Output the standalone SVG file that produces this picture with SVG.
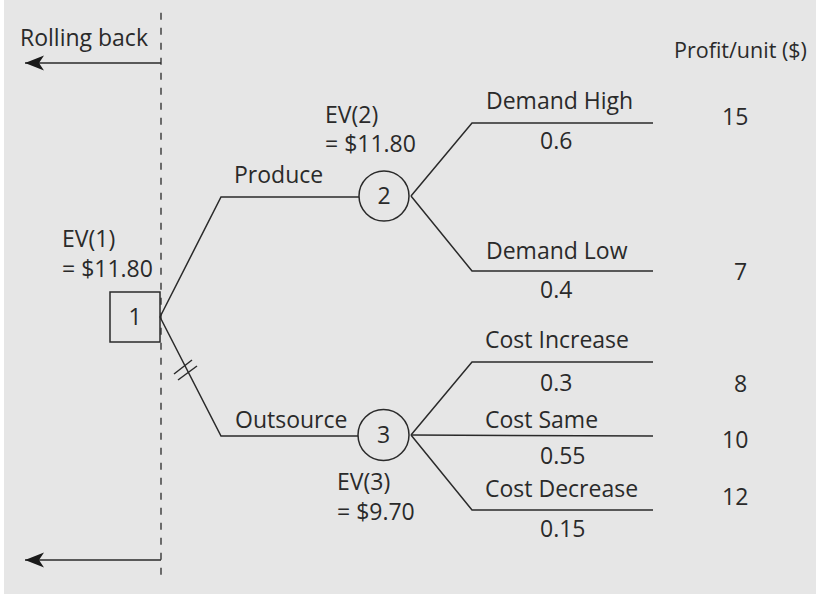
<svg xmlns="http://www.w3.org/2000/svg" width="816" height="594" viewBox="0 0 816 594">
<defs>
<style>
.t{font-family:"Open Sans","Liberation Sans",sans-serif;font-size:23px;fill:#2a2a2a}
.c{text-anchor:middle}
.ln{fill:none;stroke:#2a2a2a;stroke-width:1.5}
.nd{fill:none;stroke:#2a2a2a;stroke-width:1.5}
</style>
<marker id="ah" markerUnits="userSpaceOnUse" markerWidth="22" markerHeight="18" viewBox="-1 -9 22 18" refX="19" refY="0" orient="auto">
<path d="M19,0 L0,-7.5 L5,0 L0,7.5 Z" fill="#1a1a1a"/>
</marker>
</defs>
<rect x="0" y="0" width="816" height="594" fill="#ffffff"/>
<rect x="4" y="0" width="812" height="594" fill="#e6e6e6"/>

<g id="rollback">
<line x1="161" y1="12.7" x2="161" y2="581" stroke="#2a2a2a" stroke-width="1.3" stroke-dasharray="7 8"/>
<line x1="161" y1="63" x2="25" y2="63" stroke="#2a2a2a" stroke-width="1.5" marker-end="url(#ah)"/>
<line x1="161" y1="560" x2="25" y2="560" stroke="#2a2a2a" stroke-width="1.5" marker-end="url(#ah)"/>
<text class="t" x="20" y="46">Rolling back</text>
</g>

<g id="connectors">
<polyline class="ln" points="160,317 221,197 359,197"/>
<polyline class="ln" points="160,317 221,436 358,436"/>
<line class="ln" x1="174" y1="374" x2="192" y2="360"/>
<line class="ln" x1="178" y1="380" x2="197" y2="366"/>
<polyline class="ln" points="411,196 472,123 653,123"/>
<polyline class="ln" points="411,196 472,271 653,271"/>
<polyline class="ln" points="411,435 472,362 653,362"/>
<line class="ln" x1="411" y1="435" x2="653" y2="436"/>
<polyline class="ln" points="411,435 472,510 653,510"/>
</g>

<g id="node1">
<rect class="nd" x="110" y="292" width="50" height="50"/>
<text class="t c" x="135" y="325">1</text>
<text class="t" x="62" y="247">EV(1)</text>
<text class="t" x="62" y="277">= $11.80</text>
</g>

<g id="node2">
<circle class="nd" cx="384" cy="196" r="25"/>
<text class="t c" x="384" y="204">2</text>
<text class="t" x="325" y="123">EV(2)</text>
<text class="t" x="325" y="152">= $11.80</text>
</g>

<g id="node3">
<circle class="nd" cx="383.5" cy="435" r="25.5"/>
<text class="t c" x="383.5" y="443">3</text>
<text class="t" x="337" y="490">EV(3)</text>
<text class="t" x="337" y="520">= $9.70</text>
</g>

<g id="labels">
<text class="t" x="234" y="183">Produce</text>
<text class="t" x="235" y="428">Outsource</text>
<text class="t" x="486" y="109">Demand High</text>
<text class="t" x="540" y="149">0.6</text>
<text class="t" x="486" y="259">Demand Low</text>
<text class="t" x="540" y="298">0.4</text>
<text class="t" x="485" y="348">Cost Increase</text>
<text class="t" x="540" y="391">0.3</text>
<text class="t" x="485" y="428">Cost Same</text>
<text class="t" x="540" y="464">0.55</text>
<text class="t" x="485" y="497">Cost Decrease</text>
<text class="t" x="540" y="537">0.15</text>
</g>

<g id="profits">
<text class="t" x="674" y="58" style="font-size:21.5px">Profit/unit ($)</text>
<text class="t" x="722" y="125">15</text>
<text class="t" x="734" y="280">7</text>
<text class="t" x="734" y="392">8</text>
<text class="t" x="722" y="448">10</text>
<text class="t" x="722" y="505">12</text>
</g>
</svg>
